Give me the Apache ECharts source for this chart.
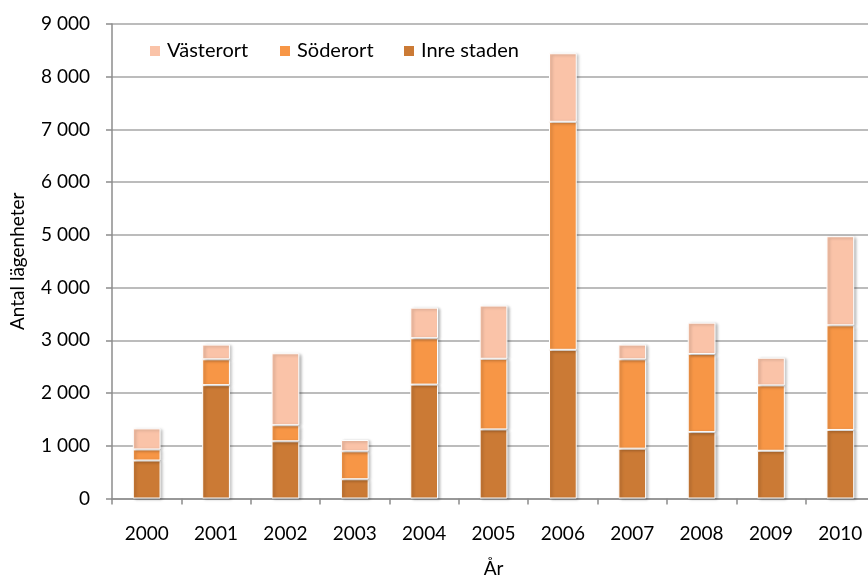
<!DOCTYPE html>
<html>
<head>
<meta charset="utf-8">
<script src="https://cdn.jsdelivr.net/npm/echarts@6/dist/echarts.min.js"></script>
<style>html,body{margin:0;padding:0;background:#fff}#c{width:868px;height:578px}</style>
</head>
<body>
<div id="c"></div>
<script>
var years = ['2000','2001','2002','2003','2004','2005','2006','2007','2008','2009','2010'];
var inreStaden = [720, 2150, 1085, 365, 2160, 1310, 2820, 945, 1260, 905, 1300];
var soderort = [210, 490, 305, 530, 880, 1340, 4325, 1695, 1480, 1240, 1985];
var vasterort = [400, 280, 1365, 215, 580, 1010, 1300, 280, 595, 525, 1690];
var yTicks = [0, 1000, 2000, 3000, 4000, 5000, 6000, 7000, 8000, 9000];

var font = 'Lato, "Open Sans", sans-serif';
var fs = 19;
function fmt(v){ return String(v).replace(/\B(?=(\d{3})+(?!\d))/g, ' '); }
var shadow = {borderColor:'#fff', borderWidth:1, shadowBlur:3, shadowColor:'rgba(0,0,0,0.28)', shadowOffsetX:2, shadowOffsetY:1};
function series(name, data, color){
  return {name:name, type:'bar', stack:'s', data:data, barWidth:'40%',
    itemStyle:Object.assign({color:color}, shadow)};
}
function legend(name, left){
  return {data:[name], left:left, top:41, itemWidth:12, itemHeight:12, icon:'rect',
    padding:0, textStyle:{fontFamily:font, fontSize:20, color:'#000', padding:[0,0,0,1]}};
}
var chart = echarts.init(document.getElementById('c'), null, {renderer:'canvas'});
chart.setOption({
  animation:false,
  textStyle:{fontFamily:font},
  grid:{left:112, top:24, width:763, height:474.5, containLabel:false, outerBoundsMode:'none'},
  legend:[legend('Västerort', 148), legend('Söderort', 278), legend('Inre staden', 402)],
  xAxis:{
    type:'category', data:years,
    name:'År', nameLocation:'middle', nameGap:61,
    nameTextStyle:{fontFamily:font, fontSize:fs, color:'#000'},
    axisLine:{lineStyle:{color:'#8c8c8c', width:1.5}},
    axisTick:{show:true, length:6, lineStyle:{color:'#8c8c8c', width:1.5}},
    axisLabel:{fontFamily:font, fontSize:fs, color:'#000', margin:26}
  },
  yAxis:{
    type:'value', min:yTicks[0], max:yTicks[yTicks.length-1], interval:1000,
    name:'Antal lägenheter', nameLocation:'middle', nameGap:85, nameRotate:90,
    nameTextStyle:{fontFamily:font, fontSize:fs, color:'#000'},
    axisLine:{show:true, lineStyle:{color:'#8c8c8c', width:1.5}},
    axisTick:{show:true, length:6, lineStyle:{color:'#8c8c8c', width:1.5}},
    axisLabel:{fontFamily:font, fontSize:fs, color:'#000', margin:22, formatter:function(v){return fmt(v);}},
    splitLine:{lineStyle:{color:'#a6a6a6', width:1.5}}
  },
  series:[
    series('Inre staden', inreStaden, '#CB7A35'),
    series('Söderort', soderort, '#F79646'),
    series('Västerort', vasterort, '#FAC3A8')
  ]
});
</script>
</body>
</html>
